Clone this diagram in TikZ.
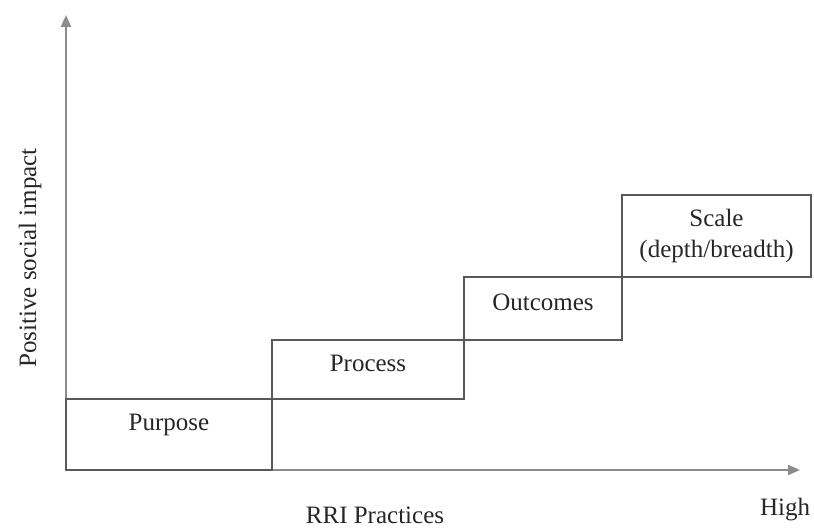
\documentclass[tikz,border=0pt]{standalone}
\usepackage{xcolor}
\usepackage{fontspec}
\setmainfont{Liberation Serif}
\usepackage{tikz}
\usetikzlibrary{arrows.meta, positioning}

\begin{document}
\begin{tikzpicture}[
		x=0.5pt, y=0.5pt,
		>={Triangle[length=6pt, width=5pt]},
		font=\fontsize{12.5}{15.5}\selectfont,
		axisline/.style={
				draw=black!45,
				line width=1pt
			},
		stepbox/.style={
				rectangle,
				inner sep=0pt,
				outer sep=0pt,
				align=center,
				draw=black!65,
				line width=0.7pt,
				text=black!85
			},
		axislabel/.style={
				text=black!85
			},
		]

		\useasboundingbox (0,0) rectangle (814,530);

		\coordinate (origin) at (66,60);

		\coordinate (ytop) at (66,515);

		\coordinate (xend) at (800,60);

		\draw[axisline, ->] (origin) -- (ytop);

		\draw[axisline, ->] (origin) -- (xend);

		\node[stepbox, minimum width=103pt, minimum height=35.5pt, text height=8pt, text depth=11.5pt, anchor=south west] (purpose) at (origin) {Purpose};

		\node[stepbox, minimum width=96pt, minimum height=29.5pt, text height=8pt, text depth=5.5pt, above right=0pt and 0pt of purpose.north east] (process) {Process};

		\node[stepbox, minimum width=79pt, minimum height=31.5pt, text height=8pt, text depth=6pt, above right=0pt and 0pt of process.north east] (outcomes) {Outcomes};

		\node[stepbox, minimum width=94.5pt, minimum height=41pt, above right=0pt and 0pt of outcomes.north east] (scale) {Scale\\(depth/breadth)};

		\node[axislabel, rotate=90] (impact) at (30,272) {Positive social impact};

		\node[axislabel] (practices) at (375,15) {RRI Practices};

		\node[axislabel] (high) at (785,20) {High};

	\end{tikzpicture}
\end{document}
